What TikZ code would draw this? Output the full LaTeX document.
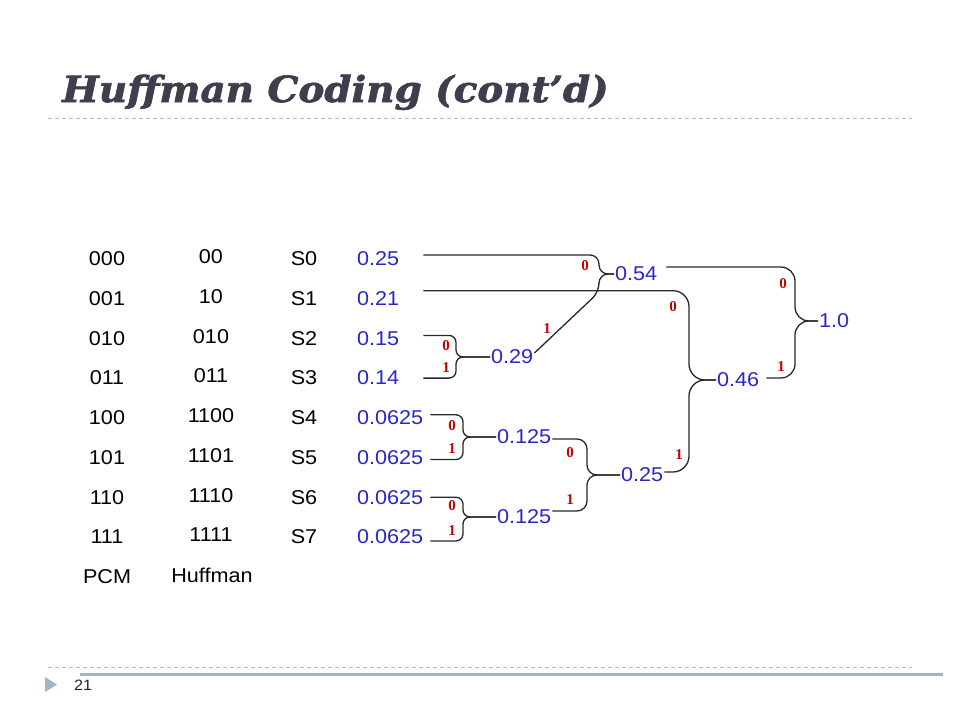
\documentclass[tikz,border=0pt]{standalone}
\usepackage{fontspec}
\setmainfont{Liberation Sans}[FakeStretch=1.08]
\newfontfamily\titlefont{DejaVu Serif}[FakeStretch=1.08, FakeBold=1.8]
\newfontfamily\labfont{Liberation Serif}
\definecolor{titlecol}{RGB}{62,62,78}
\definecolor{rulecol}{RGB}{160,182,198}
\definecolor{dashcol}{RGB}{170,192,206}
\definecolor{probblue}{RGB}{40,40,200}
\definecolor{labred}{RGB}{200,0,0}
\definecolor{wirecol}{RGB}{40,40,40}
\newcommand\mytabfont{\fontsize{20}{24}\selectfont}
\begin{document}
\begin{tikzpicture}[x=1pt,y=-1pt,
  tbl/.style={font=\mytabfont, inner sep=0pt},
  probbox/.style={font=\mytabfont, text=probblue, inner sep=0pt, anchor=west, text width=#1, align=left},
  sumnode/.style={font=\mytabfont, text=probblue, inner sep=1pt, anchor=west},
  wire/.style={draw=wirecol, line width=1.3pt},
  bitlab/.style={font=\labfont\bfseries\fontsize{15}{16}\selectfont, text=labred, inner sep=0pt},
  dashrule/.style={draw=dashcol, line width=0.8pt, dash pattern=on 4pt off 3pt}]
\useasboundingbox (0,0) rectangle (960,720);
\fill[white] (0,0) rectangle (960,720);

% title
\node[anchor=base west, inner sep=0pt, text=titlecol,
  font=\titlefont\bfseries\itshape\fontsize{36}{42}\selectfont] (title) at (62,102) {Huffman Coding (cont’d)};
\draw[dashrule] (48,118) -- (912,118);

% bottom rules
\draw[dashrule] (48,667) -- (912,667);
\draw[draw=rulecol, line width=3pt] (80,674) -- (943,674);
\fill[rulecol] (45,677) -- (57,684.5) -- (45,692) -- cycle;
\node[anchor=base west, inner sep=0pt, text=gray!30!black, font=\fontsize{15}{17}\selectfont] (pagenum) at (74,690) {21};

% table columns
\foreach \i/\pcm/\huf in {0/000/00,1/001/10,2/010/010,3/011/011,4/100/1100,5/101/1101,6/110/1110,7/111/1111}{
  \node[tbl] (pcm\i) at (107,259+39.7*\i) {\pcm};
  \node[tbl] (huf\i) at (211,257+39.7*\i) {\huf};
  \node[tbl] (sym\i) at (304,259+39.7*\i) {S\i};
}
\node[tbl] (pcmlab) at (107,576.6) {PCM};
\node[tbl] (huflab) at (212,575) {Huffman};

% probabilities
\node[probbox=66pt] (p0) at (357,259) {0.25};
\node[probbox=66pt] (p1) at (357,298.7) {0.21};
\node[probbox=66pt] (p2) at (357,338.4) {0.15};
\node[probbox=66pt] (p3) at (357,378.1) {0.14};
\node[probbox=73pt] (p4) at (357,417.8) {0.0625};
\node[probbox=73pt] (p5) at (357,457.5) {0.0625};
\node[probbox=73pt] (p6) at (357,497.2) {0.0625};
\node[probbox=73pt] (p7) at (357,536.9) {0.0625};

% merged sums
\node[sumnode] (n054) at (614,274) {0.54};
\node[sumnode] (n029) at (490,357) {0.29};
\node[sumnode] (n0125a) at (496,437) {0.125};
\node[sumnode] (n0125b) at (496,517) {0.125};
\node[sumnode] (n025) at (620,475) {0.25};
\node[sumnode] (n046) at (716,380) {0.46};
\node[sumnode] (n10) at (818,321) {1.0};

% braces
\draw[wire, rounded corners=7pt] ([yshift=3pt]p2.east) -- (456,335.4) -- (456,357) -- (n029.west);
\draw[wire, rounded corners=7pt] (p3.east) -- (456,378.1) -- (456,357) -- (n029.west);

\draw[wire, rounded corners=7pt] ([yshift=3pt]p4.east) -- (463,414.8) -- (463,437) -- (n0125a.west);
\draw[wire, rounded corners=7pt] ([yshift=-2pt]p5.east) -- (463,459.5) -- (463,437) -- (n0125a.west);

\draw[wire, rounded corners=7pt] (p6.east) -- (463,497.2) -- (463,517) -- (n0125b.west);
\draw[wire, rounded corners=7pt] ([yshift=-4pt]p7.east) -- (463,540.9) -- (463,517) -- (n0125b.west);

\draw[wire, rounded corners=10pt] ([yshift=-2pt]n0125a.east) -- (587,439) -- (587,475) -- (n025.west);
\draw[wire, rounded corners=10pt] ([yshift=6pt]n0125b.east) -- (587,511) -- (587,475) -- (n025.west);

\draw[wire, rounded corners=9pt] ([yshift=4pt]p0.east) -- (599,255) -- (599,274) -- (n054.west);
\draw[wire, rounded corners=9pt] (n054.west) -- (599,274) -- (599,292) -- ([yshift=4pt]n029.east);

\draw[wire, rounded corners=16pt] ([yshift=8pt]p1.east) -- (689,290.7) -- (689,380) -- (n046.west);
\draw[wire, rounded corners=16pt] (n046.west) -- (689,380) -- (689,472) -- ([yshift=3pt]n025.east);

\draw[wire, rounded corners=14pt] ([xshift=8pt,yshift=7pt]n054.east) -- (795,267) -- (795,321) -- (n10.west);
\draw[wire, rounded corners=14pt] (n10.west) -- (795,321) -- (795,378) -- ([xshift=6pt,yshift=2pt]n046.east);

% bit labels
\node[bitlab] (b29o) at (446,346) {0};
\node[bitlab] (b29i) at (446,368) {1};
\node[bitlab] (b125ao) at (452,426) {0};
\node[bitlab] (b125ai) at (452,449) {1};
\node[bitlab] (b125bo) at (452,506) {0};
\node[bitlab] (b125bi) at (452,531) {1};
\node[bitlab] (b25o) at (570,453) {0};
\node[bitlab] (b25i) at (570,500) {1};
\node[bitlab] (b54o) at (585,266) {0};
\node[bitlab] (b54i) at (547,329) {1};
\node[bitlab] (b46o) at (673,307) {0};
\node[bitlab] (b46i) at (679,455) {1};
\node[bitlab] (b10o) at (783,284) {0};
\node[bitlab] (b10i) at (781,367) {1};
\end{tikzpicture}
\end{document}
